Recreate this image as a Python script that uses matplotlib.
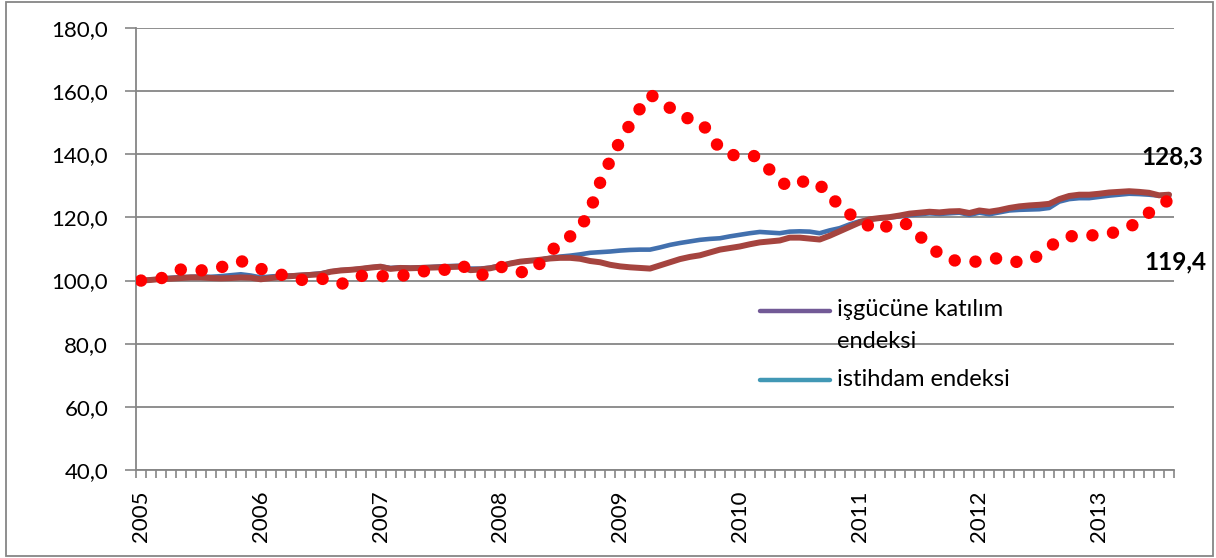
import matplotlib.pyplot as plt
from matplotlib.lines import Line2D
from matplotlib.patches import Rectangle
from matplotlib.ticker import FixedLocator, FuncFormatter

plt.rcParams['font.family'] = ['Lato', 'DejaVu Sans']

# monthly indices, Jan 2005 - Aug 2013
years = ['2005', '2006', '2007', '2008', '2009', '2010', '2011', '2012', '2013']

issizlik_endeksi = [
    100.0, 100.4, 100.7, 102.2, 103.5, 103.3, 103.2, 103.7, 104.2, 105.2, 106.2, 105.0,
    103.7, 102.8, 101.9, 101.0, 100.2, 100.4, 100.7, 99.8, 98.8, 100.2, 101.5, 101.5,
    101.4, 101.4, 101.4, 102.2, 102.9, 103.0, 103.0, 104.0, 105.0, 103.3, 101.5, 103.0,
    104.4, 103.5, 102.7, 102.6, 105.5, 108.9, 112.3, 114.0, 116.5, 122.3, 131.0, 138.0,
    144.2, 149.5, 154.5, 158.9, 157.0, 154.7, 152.2, 151.2, 150.5, 146.5, 141.7, 139.6,
    140.0, 139.9, 138.8, 135.0, 131.5, 129.6, 131.0, 132.0, 130.0, 128.3, 122.6, 121.0,
    119.8, 117.0, 115.8, 117.8, 118.5, 117.6, 114.0, 111.8, 108.0, 106.8, 106.0, 106.0,
    106.0, 106.6, 107.2, 106.5, 105.7, 106.5, 108.0, 110.5, 113.0, 113.9, 114.5, 114.4,
    114.2, 114.9, 115.6, 117.0, 118.6, 121.5, 123.8, 125.5,
]

isgucu_endeksi = [
    100.0, 100.3, 100.6, 100.9, 101.1, 101.2, 101.3, 101.2, 101.4, 101.7, 102.0, 101.6,
    101.0, 101.3, 101.5, 101.6, 101.8, 102.0, 102.3, 102.9, 103.3, 103.5, 103.8, 104.2,
    104.5, 104.0, 104.2, 104.1, 104.2, 104.3, 104.5, 104.6, 104.7, 103.8, 103.8, 104.1,
    104.8, 105.5, 106.0, 106.3, 106.6, 107.2, 107.6, 107.9, 108.3, 108.8, 109.0, 109.2,
    109.5, 109.7, 109.8, 109.8, 110.5, 111.3, 111.9, 112.4, 112.9, 113.2, 113.4, 114.0,
    114.5, 115.0, 115.4, 115.2, 115.0, 115.5, 115.6, 115.5, 115.0, 115.9, 116.6, 117.8,
    118.8, 119.4, 119.7, 120.0, 120.3, 120.7, 121.0, 121.3, 121.1, 121.3, 121.5, 120.8,
    121.5, 121.0, 121.6, 122.2, 122.4, 122.5, 122.6, 123.0, 125.0, 125.8, 126.1, 126.1,
    126.5, 126.9, 127.2, 127.5, 127.4, 127.2, 126.9, 127.0,
]

istihdam_endeksi = [
    100.0, 100.2, 100.5, 100.6, 100.8, 101.0, 101.0, 100.8, 100.7, 100.8, 101.0, 100.9,
    100.4, 100.8, 101.2, 101.4, 101.6, 101.8, 102.0, 102.8, 103.2, 103.4, 103.7, 104.1,
    104.4, 103.7, 104.0, 103.9, 104.0, 104.1, 104.2, 104.3, 104.4, 103.3, 103.5, 103.9,
    104.6, 105.4, 106.0, 106.3, 106.6, 107.0, 107.2, 107.2, 106.9, 106.2, 105.8, 105.0,
    104.5, 104.2, 104.0, 103.8, 104.8, 105.8, 106.8, 107.5, 108.0, 108.9, 109.8, 110.3,
    110.8, 111.5, 112.1, 112.4, 112.7, 113.6, 113.6, 113.3, 113.0, 114.2, 115.6, 117.0,
    118.4, 119.4, 119.8, 120.1, 120.6, 121.2, 121.5, 121.8, 121.6, 121.9, 122.0, 121.4,
    122.2, 121.8, 122.3, 123.0, 123.5, 123.8, 124.0, 124.3, 125.8, 126.8, 127.2, 127.2,
    127.5, 127.9, 128.1, 128.3, 128.1, 127.8, 127.0, 127.2,
]

etiket_ust = '128,3'
etiket_alt = '119,4'

n = len(istihdam_endeksi)
x = list(range(n))

fig = plt.figure(figsize=(12.16, 5.58), dpi=100)
ax = fig.add_axes([136 / 1216, 1 - 470 / 558, (1174 - 136) / 1216, (470 - 28) / 558])

grid_col = '#868686'

ax.plot(x, isgucu_endeksi, color='#4270AE', lw=3.3, solid_joinstyle='round', zorder=3)
ax.plot(x, istihdam_endeksi, color='#A5443F', lw=4.3, solid_joinstyle='round',
        solid_capstyle='round', zorder=4)
ax.plot(x, issizlik_endeksi, color='#FF0000', lw=9.0, linestyle=(0, (0.001, 1.67)),
        dash_capstyle='round', zorder=5)

ax.set_xlim(-0.5, n - 0.5)
ax.set_ylim(40, 180)
ax.set_yticks(range(40, 181, 20))
ax.yaxis.set_major_formatter(FuncFormatter(lambda v, p: f'{v:.1f}'.replace('.', ',')))
ax.grid(axis='y', color=grid_col, lw=1.3)
ax.set_axisbelow(True)

# x axis: monthly ticks between categories, year labels at January
ax.xaxis.set_minor_locator(FixedLocator([k - 0.5 for k in range(n + 1)]))
ax.set_xticks([12 * k for k in range(len(years))])
ax.set_xticklabels(years, rotation=90)
ax.tick_params(axis='x', which='major', length=0, pad=15, labelsize=16)
ax.tick_params(axis='x', which='minor', length=6, width=1.2, color=grid_col)
ax.tick_params(axis='y', length=8, width=1.2, color=grid_col, pad=12, labelsize=16)

for s in ['top', 'right']:
    ax.spines[s].set_visible(False)
for s in ['left', 'bottom']:
    ax.spines[s].set_color(grid_col)
    ax.spines[s].set_linewidth(1.3)

# value labels at the right end
fig.text(1141 / 1216, 1 - 157 / 558, etiket_ust, fontsize=17.5, fontweight='bold',
         va='center', ha='left')
fig.text(1144 / 1216, 1 - 262 / 558, etiket_alt, fontsize=17.5, fontweight='bold',
         va='center', ha='left')

# legend (Excel style, no frame)
fig.add_artist(Line2D([760 / 1216, 830 / 1216], [1 - 311 / 558] * 2, color='#725A96',
                      lw=3.2, solid_capstyle='round'))
fig.add_artist(Line2D([760 / 1216, 830 / 1216], [1 - 380 / 558] * 2, color='#4198B5',
                      lw=3.2, solid_capstyle='round'))
fig.text(837 / 1216, 1 - 310 / 558, 'işgücüne katılım', fontsize=17, va='center')
fig.text(837 / 1216, 1 - 342 / 558, 'endeksi', fontsize=17, va='center')
fig.text(837 / 1216, 1 - 379 / 558, 'istihdam endeksi', fontsize=17, va='center')

# chart area border
fig.add_artist(Rectangle((6 / 1216, 2 / 558), 1207 / 1216, 554 / 558, fill=False,
                         ec=grid_col, lw=1.3, transform=fig.transFigure))

fig.savefig('out.png', dpi=100)
